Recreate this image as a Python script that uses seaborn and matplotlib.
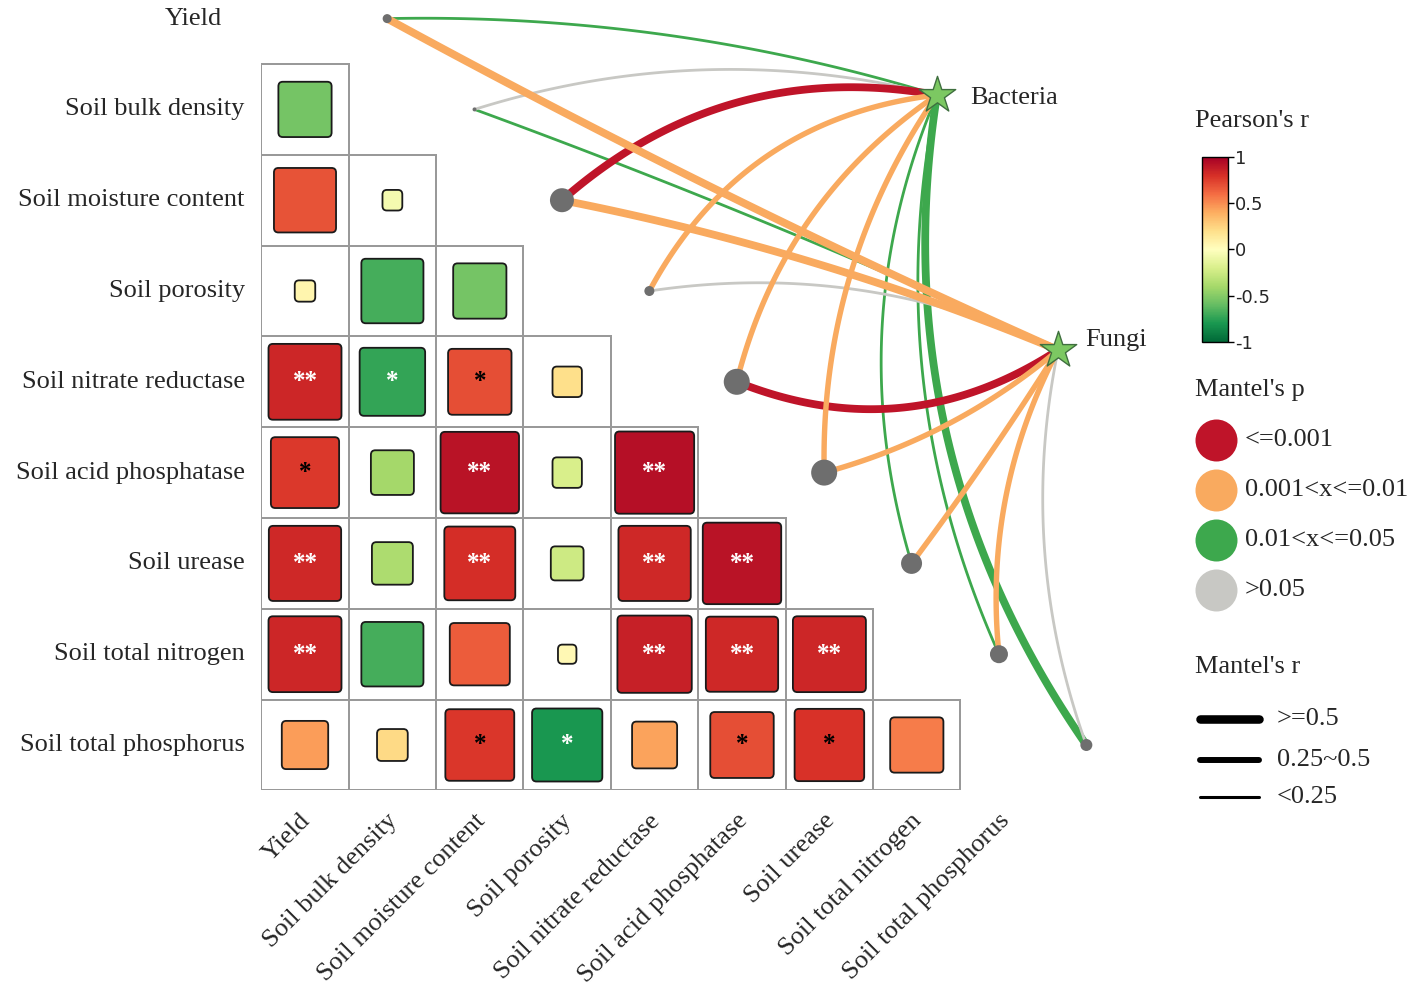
import numpy as np
import pandas as pd
import matplotlib
matplotlib.use("Agg")
import matplotlib.pyplot as plt
import seaborn as sns
from matplotlib.colors import ListedColormap, Normalize
from matplotlib.cm import ScalarMappable
from matplotlib.patches import FancyBboxPatch
from matplotlib.transforms import ScaledTranslation

# --- data ---
env_names = ["Yield", "Soil bulk density", "Soil moisture content", "Soil porosity",
             "Soil nitrate reductase", "Soil acid phosphatase", "Soil urease",
             "Soil total nitrogen", "Soil total phosphorus"]

# Pearson's r, lower triangle: row i against columns 0..i-1
corr_rows = [
    [],
    [-0.55],
    [0.68, -0.06],
    [0.07, -0.68, -0.55],
    [0.84, -0.73, 0.70, 0.20],
    [0.77, -0.40, 0.92, -0.20, 0.93],
    [0.83, -0.37, 0.81, -0.25, 0.83, 0.92],
    [0.84, -0.68, 0.65, 0.04, 0.86, 0.83, 0.84],
    [0.45, 0.22, 0.78, -0.80, 0.43, 0.70, 0.79, 0.55],
]
sig_rows = [
    [],
    [""],
    ["", ""],
    ["", "", ""],
    ["**", "*", "*", ""],
    ["*", "", "**", "", "**"],
    ["**", "", "**", "", "**", "**"],
    ["**", "", "", "", "**", "**", "**"],
    ["", "", "*", "*", "", "*", "*", ""],
]

# Mantel test links (group x env)
mantel_group = ["Bacteria"] * 9 + ["Fungi"] * 9
mantel_env = env_names * 2
mantel_p = [0.03, 0.30, 0.0005, 0.005, 0.005, 0.005, 0.02, 0.03, 0.02,
            0.005, 0.03, 0.005, 0.20, 0.0005, 0.005, 0.005, 0.005, 0.15]
mantel_r = [0.15, 0.10, 0.55, 0.35, 0.35, 0.35, 0.15, 0.15, 0.55,
            0.55, 0.15, 0.55, 0.12, 0.55, 0.40, 0.35, 0.30, 0.18]

p_labels = ["<=0.001", "0.001<x<=0.01", "0.01<x<=0.05", ">0.05"]
r_labels = ["<0.25", "0.25~0.5", ">=0.5"]

# --- styles ---
p_colors = ["#BF1429", "#F9AA5F", "#3DA84D", "#C8C8C4"]
r_widths = [2.0, 3.9, 5.6]
node_size = [9, 4, 24, 10, 26, 26, 21, 18, 12]          # px diameter
curv = [0.08, 0.14, 0.24, 0.26, 0.19, 0.16, 0.18, 0.16, 0.20,
        -0.02, 0.02, 0.05, 0.15, -0.26, -0.11, -0.02, 0.15, 0.14]

sns.set_style("white")
plt.rcParams["font.family"] = ["Liberation Serif", "DejaVu Serif"]
FS = 19

fig = plt.figure(figsize=(14.17, 10.02), dpi=100)
ax = fig.add_axes([0.1844, 0.21118, 0.6168, 0.78882])

n = len(env_names)
mask = np.triu(np.ones((n, n), dtype=bool))
grid = pd.DataFrame(np.zeros((n, n)), index=env_names, columns=env_names)
sns.heatmap(grid, mask=mask, cmap=ListedColormap(["white"]), cbar=False,
            linewidths=1.3, linecolor="#9a9a9a", ax=ax)
# only keep the borders of the visible (lower triangle) cells
mesh = ax.collections[0]
edge = [(0, 0, 0, 0) if m else (0.6, 0.6, 0.6, 1) for m in mask.ravel()]
mesh.set_edgecolors(edge)

cmap = plt.get_cmap("RdYlGn_r")
norm = Normalize(-1, 1)

# squares sized by |r|
for i, row in enumerate(corr_rows):
    for j, r in enumerate(row):
        side = 0.18 + 0.78 * abs(r)
        box = FancyBboxPatch((j + 0.5 - side / 2, i + 0.5 - side / 2), side, side,
                             boxstyle="round,pad=0,rounding_size=0.05",
                             facecolor=cmap(norm(r)), edgecolor="#1a1a1a",
                             linewidth=1.3, zorder=2)
        ax.add_patch(box)
        s = sig_rows[i][j]
        if s:
            tc = "white" if (r > 0.8 or r < -0.7) else "black"
            ax.text(j + 0.5, i + 0.5, s, ha="center", va="center",
                    fontsize=18, fontweight="bold", color=tc, zorder=3)

# --- mantel links ---
sx, sy = 87.4, 90.8
star_pos = {"Bacteria": (7.731, 1.341), "Fungi": (9.116, 4.150)}


def curve(p0, p2, c, num=80):
    a = np.array([p0[0] * sx, p0[1] * sy])
    b = np.array([p2[0] * sx, p2[1] * sy])
    d = b - a
    L = np.hypot(*d)
    nv = np.array([d[1], -d[0]]) / L
    ctrl = (a + b) / 2 + c * L * nv
    t = np.linspace(0, 1, num)[:, None]
    pts = (1 - t) ** 2 * a + 2 * t * (1 - t) * ctrl + t ** 2 * b
    return pts[:, 0] / sx, pts[:, 1] / sy


links = pd.DataFrame({"group": mantel_group, "env": mantel_env,
                      "p": mantel_p, "r": mantel_r})
links["p_cat"] = pd.cut(links["p"], [0, 0.001, 0.01, 0.05, 1], labels=p_labels).astype(str)
links["r_cat"] = pd.cut(links["r"], [-np.inf, 0.25, 0.5, np.inf], labels=r_labels,
                        right=False).astype(str)

node_x = np.arange(n) + 1.44
node_y = np.arange(n) + 0.5

pieces = []
for k, lk in links.iterrows():
    i = env_names.index(lk["env"])
    xs, ys = curve((node_x[i], node_y[i]), star_pos[lk["group"]], curv[k])
    pieces.append(pd.DataFrame({"link": k, "x": xs, "y": ys,
                                "p_cat": lk["p_cat"], "r_cat": lk["r_cat"]}))
curves = pd.concat(pieces, ignore_index=True)

sns.lineplot(data=curves, x="x", y="y", hue="p_cat", size="r_cat", units="link",
             estimator=None, sort=False, palette=dict(zip(p_labels, p_colors)),
             sizes=dict(zip(r_labels, r_widths)), legend=False, ax=ax,
             zorder=3, solid_capstyle="round")

ax.scatter(node_x, node_y, s=(np.array(node_size) / 1.389) ** 2,
           color="#6e6e6e", linewidth=0, zorder=4, clip_on=False)
for g, (x, y) in star_pos.items():
    ax.scatter([x], [y], marker="*", s=760, color="#7cc862",
               edgecolor="#3f6f3f", linewidth=1.0, zorder=5, clip_on=False)

# --- axes ---
ax.set_xlim(0, 10)
ax.set_ylim(9, 0.295)
ax.set_xlabel("")
ax.set_ylabel("")
for sp in ax.spines.values():
    sp.set_visible(False)
ax.set_xticks(np.arange(n) + 0.5)
ax.set_xticklabels(env_names, rotation=45, ha="right", va="top",
                   rotation_mode="anchor", fontsize=FS)
ax.set_yticks(np.arange(1, n) + 0.5)
ax.set_yticklabels(env_names[1:], rotation=0, fontsize=FS)
ax.tick_params(axis="x", length=0, pad=14)
ax.tick_params(axis="y", length=0, pad=12)
off = ScaledTranslation(-0.06, 0, fig.dpi_scale_trans)
for lab in ax.get_xticklabels():
    lab.set_transform(lab.get_transform() + off)
ax.text(-0.45, 0.5, env_names[0], ha="right", va="center", fontsize=FS)

# --- colorbar ---
cax = fig.add_axes([0.8483, 0.6587, 0.01835, 0.1846])
cb = fig.colorbar(ScalarMappable(norm=norm, cmap=cmap), cax=cax,
                  ticks=[-1, -0.5, 0, 0.5, 1])
cb.ax.set_yticklabels(["-1", "-0.5", "0", "0.5", "1"], family="DejaVu Sans")
cb.ax.tick_params(labelsize=13, length=4, width=1, pad=1, color="black")
cb.outline.set_linewidth(1)
cb.outline.set_edgecolor("black")

# --- legends drawn in pixel coordinates ---
lax = fig.add_axes([0, 0, 1, 1])
lax.set_xlim(0, 1417)
lax.set_ylim(1002, 0)
lax.axis("off")
lax.patch.set_alpha(0)

lax.text(1195, 121, "Pearson's r", ha="left", va="center", fontsize=FS)
lax.text(1195, 390, "Mantel's p", ha="left", va="center", fontsize=FS)
for k, (lab, col) in enumerate(zip(p_labels, p_colors)):
    yy = 440 + 50 * k
    lax.scatter([1216], [yy], s=(42 / 1.389) ** 2, color=col, linewidth=0)
    lax.text(1245, yy, lab, ha="left", va="center", fontsize=FS)

lax.text(1195, 667, "Mantel's r", ha="left", va="center", fontsize=FS)
for yy, lab, w in zip([719, 760, 797], r_labels[::-1], r_widths[::-1]):
    lax.plot([1200, 1259], [yy, yy], color="black", linewidth=w * 1.1,
             solid_capstyle="round")
    lax.text(1277, yy, lab, ha="left", va="center", fontsize=FS)

lax.text(970, 98, "Bacteria", ha="left", va="center", fontsize=FS)
lax.text(1085, 340, "Fungi", ha="left", va="center", fontsize=FS)

fig.savefig("out.png", dpi=100)
